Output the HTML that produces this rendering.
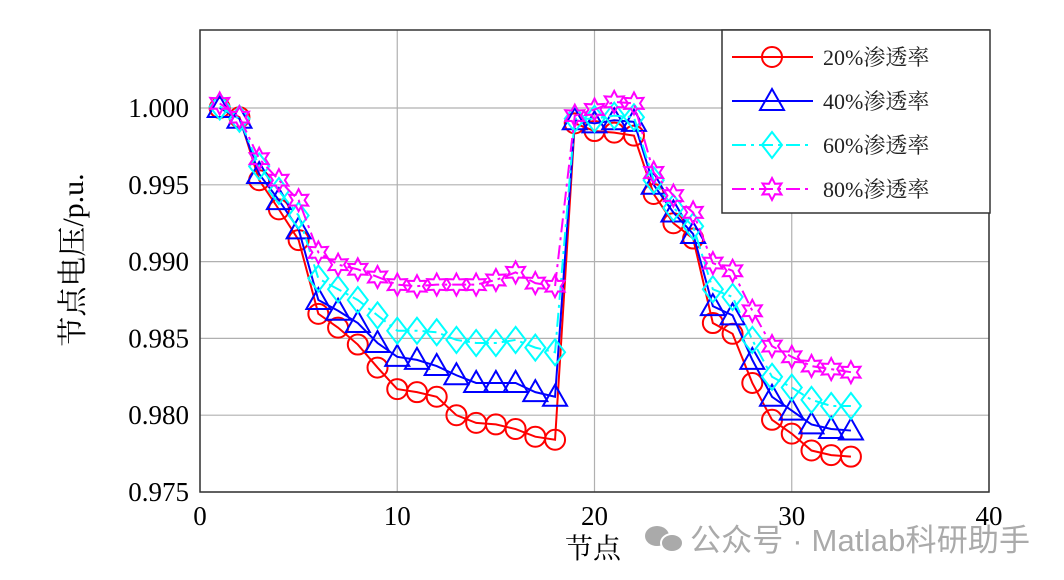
<!DOCTYPE html>
<html><head><meta charset="utf-8"><style>
html,body{margin:0;padding:0;background:#fff;}
svg{display:block;font-family:"Liberation Serif","Noto Serif CJK SC",serif;}
</style></head><body>
<svg id="chart" width="1064" height="580" viewBox="0 0 1064 580">
<g id="grid"></g>
<g id="series"></g>
<g id="axes"></g>
<text x="76" y="260" font-size="30" text-anchor="middle" transform="rotate(-90 76 260)" dominant-baseline="middle">节点电压/p.u.</text>
<text x="593" y="558" font-size="28" text-anchor="middle">节点</text>
<g id="legend"></g>
<g>
<ellipse cx="657" cy="536" rx="12" ry="10" fill="#aaa"/><ellipse cx="672" cy="543" rx="11" ry="9" fill="#aaa" stroke="#fff" stroke-width="2"/>
<text x="690" y="551" font-size="31" fill="#aaa" textLength="340" font-family="'Liberation Sans','Noto Sans CJK SC',sans-serif">公众号 · Matlab科研助手</text>
</g>
</svg>
<script>
const nodes=[];for(let i=1;i<=33;i++)nodes.push(i);
const s20=[1.0000,0.9994,0.9953,0.9934,0.9914,0.9866,0.9857,0.9846,0.9831,0.9817,0.9815,0.9812,0.9800,0.9795,0.9794,0.9791,0.9786,0.9784,0.9990,0.9985,0.9984,0.9982,0.9944,0.9925,0.9915,0.9860,0.9853,0.9821,0.9797,0.9788,0.9777,0.9774,0.9773];
const s40=[1.0000,0.9993,0.9957,0.9940,0.9921,0.9875,0.9868,0.9860,0.9847,0.9838,0.9836,0.9832,0.9826,0.9821,0.9821,0.9821,0.9815,0.9812,0.9992,0.9990,0.9992,0.9991,0.9950,0.9932,0.9918,0.9871,0.9865,0.9836,0.9812,0.9803,0.9794,0.9791,0.9790];
const s60=[1.0001,0.9993,0.9962,0.9946,0.9930,0.9889,0.9882,0.9875,0.9865,0.9855,0.9855,0.9854,0.9849,0.9847,0.9847,0.9849,0.9844,0.9841,0.9993,0.9993,0.9995,0.9994,0.9953,0.9935,0.9923,0.9882,0.9877,0.9849,0.9825,0.9818,0.9810,0.9806,0.9806];
const s80=[1.0003,0.9994,0.9967,0.9953,0.9940,0.9906,0.9898,0.9895,0.9890,0.9885,0.9884,0.9885,0.9885,0.9885,0.9888,0.9893,0.9886,0.9884,0.9995,0.9999,1.0004,1.0003,0.9958,0.9943,0.9932,0.9899,0.9894,0.9868,0.9845,0.9838,0.9832,0.9830,0.9828];
const xTicks=[0,10,20,30,40];
const yTicks=[0.975,0.980,0.985,0.990,0.995,1.000];
const yTickLabels=["0.975","0.980","0.985","0.990","0.995","1.000"];
const legendLabels=["20%渗透率","40%渗透率","60%渗透率","80%渗透率"];

const NS="http://www.w3.org/2000/svg";
const L=200,R=989,T=30,B=492;
const X=v=>L+(v-0)/40*(R-L);
const Y=v=>108+(1-v)/0.025*(492-108);
function mk(tag,attrs,parent){const e=document.createElementNS(NS,tag);for(const k in attrs)e.setAttribute(k,attrs[k]);parent.appendChild(e);return e;}
const grid=document.getElementById('grid'),axes=document.getElementById('axes'),ser=document.getElementById('series'),leg=document.getElementById('legend');
xTicks.forEach(t=>{
 const g=mk('line',{x1:X(t),x2:X(t),y1:T,y2:B,stroke:'#b0b0b0','stroke-width':1.2},grid);
 
 const tx=mk('text',{x:X(t),y:525,'font-size':27,'text-anchor':'middle'},axes);tx.textContent=t;
 
});
yTicks.forEach((t,i)=>{
 const g=mk('line',{x1:L,x2:R,y1:Y(t),y2:Y(t),stroke:'#b0b0b0','stroke-width':1.2},grid);
 
 const tx=mk('text',{x:189,y:Y(t)+9,'font-size':27,'text-anchor':'end'},axes);tx.textContent=yTickLabels[i];
 
});
const frame=mk('rect',{x:L,y:T,width:R-L,height:B-T,fill:'none',stroke:'#333','stroke-width':1.5},axes);


function marker(type,cx,cy,color,parent){
 let e;
 if(type==='o')e=mk('circle',{cx:cx,cy:cy,r:10,fill:'none',stroke:color,'stroke-width':2},parent);
 else if(type==='^')e=mk('polygon',{points:`${cx},${cy-12} ${cx-12},${cy+9} ${cx+12},${cy+9}`,fill:'none',stroke:color,'stroke-width':2},parent);
 else if(type==='d')e=mk('polygon',{points:`${cx},${cy-13} ${cx-10},${cy} ${cx},${cy+13} ${cx+10},${cy}`,fill:'none',stroke:color,'stroke-width':2},parent);
 else{const p=[];for(let k=0;k<12;k++){const a=-Math.PI/2+k*Math.PI/6;const r=k%2?6:11;p.push((cx+r*Math.cos(a)).toFixed(1)+','+(cy+r*Math.sin(a)).toFixed(1));}
  e=mk('polygon',{points:p.join(' '),fill:'none',stroke:color,'stroke-width':2},parent);}
 return e;
}
const defs=[{d:s20,c:'#ff0000',m:'o',dash:''},{d:s40,c:'#0000ff',m:'^',dash:''},{d:s60,c:'#00ffff',m:'d',dash:'14 5 3 5'},{d:s80,c:'#ff00ff',m:'h',dash:'14 5 3 5'}];
const names=['series-20pct','series-40pct','series-60pct','series-80pct'];
defs.forEach((s,i)=>{
 const g=mk('g',{},ser);
 const pts=s.d.map((v,j)=>X(nodes[j])+','+Y(v)).join(' ');
 const pl=mk('polyline',{points:pts,fill:'none',stroke:s.c,'stroke-width':2,'stroke-dasharray':s.dash},g);
 
 s.d.forEach((v,j)=>{const m=marker(s.m,X(nodes[j]),Y(v),s.c,g);
  });
});
const lb=mk('rect',{x:722,y:30,width:268,height:183,fill:'#fff',stroke:'#333','stroke-width':1.5},leg);

defs.forEach((s,i)=>{
 const y=57+i*44;
 const g=mk('g',{},leg);
 mk('line',{x1:732,x2:813,y1:y,y2:y,stroke:s.c,'stroke-width':2,'stroke-dasharray':s.dash?'14 5 3 5':''},g);
 marker(s.m,772,y,s.c,g);
 const t=mk('text',{x:823,y:y+8,'font-size':22,fill:'#222'},g);t.textContent=legendLabels[i];
});
</script>
</body></html>
